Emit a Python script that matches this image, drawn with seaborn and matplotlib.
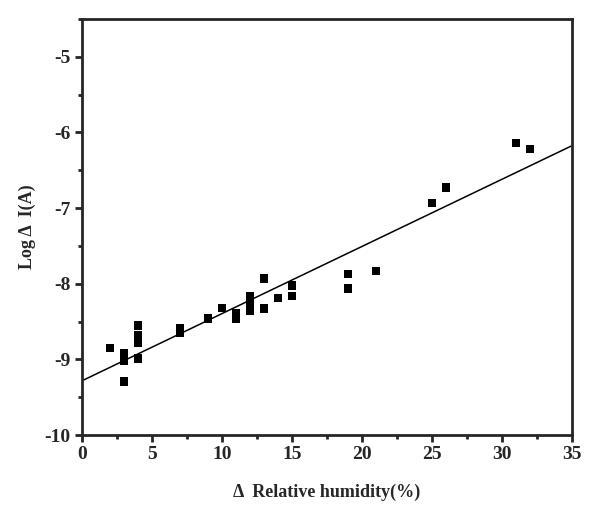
import matplotlib
matplotlib.use("Agg")
import matplotlib.pyplot as plt
import seaborn as sns
import pandas as pd
from matplotlib.ticker import MultipleLocator

# data
humidity = [2, 3, 3, 3, 4, 4, 4, 4, 7, 7, 9, 10, 11, 11, 12, 12, 12,
            13, 13, 14, 15, 15, 19, 19, 21, 25, 26, 31, 32]
log_current = [-8.85, -8.92, -9.02, -9.29, -8.55, -8.68, -8.78, -8.99,
               -8.59, -8.65, -8.46, -8.32, -8.39, -8.46, -8.16, -8.26, -8.36,
               -7.93, -8.33, -8.19, -8.02, -8.16, -7.87, -8.06, -7.83,
               -6.93, -6.73, -6.14, -6.22]

x_ticks = [0, 5, 10, 15, 20, 25, 30, 35]
y_ticks = [-10, -9, -8, -7, -6, -5]

df = pd.DataFrame({"rh": humidity, "logI": log_current})

sns.set_style("ticks")
plt.rcParams["font.family"] = ["Liberation Serif", "DejaVu Serif"]
plt.rcParams["font.weight"] = "bold"
plt.rcParams["axes.unicode_minus"] = False  # plain hyphens like the original

fig = plt.figure(figsize=(6.06, 5.09), dpi=100)
ax = fig.add_axes([0.135, 0.145, 0.809, 0.818])

ax.set_xlim(0, 35)
ax.set_ylim(-10, -4.5)

sns.regplot(data=df, x="rh", y="logI", ax=ax, ci=None, truncate=False,
            marker="s",
            scatter_kws={"s": 38, "color": "black", "edgecolor": "none",
                         "alpha": 1},
            line_kws={"color": "black", "lw": 1.1})

ax.set_xlim(0, 35)
ax.set_ylim(-10, -4.5)
ax.set_xticks(x_ticks)
ax.set_yticks(y_ticks)
ax.xaxis.set_minor_locator(MultipleLocator(2.5))
ax.yaxis.set_minor_locator(MultipleLocator(0.5))
ax.tick_params(which="major", direction="out", length=5, width=2,
               labelsize=14, top=False, right=False, pad=3)
ax.tick_params(which="minor", direction="out", length=3, width=2,
               top=False, right=False)
for s in ax.spines.values():
    s.set_linewidth(2)
    s.set_visible(True)

ax.set_xlabel("Δ  Relative humidity(%)", fontsize=13, fontweight="bold",
              family=["Liberation Serif", "DejaVu Sans"], labelpad=15)
ax.set_ylabel("Log Δ  I(A)", fontsize=13, fontweight="bold",
              family=["Liberation Serif", "DejaVu Sans"], labelpad=6)

fig.savefig("out.png", dpi=100)
